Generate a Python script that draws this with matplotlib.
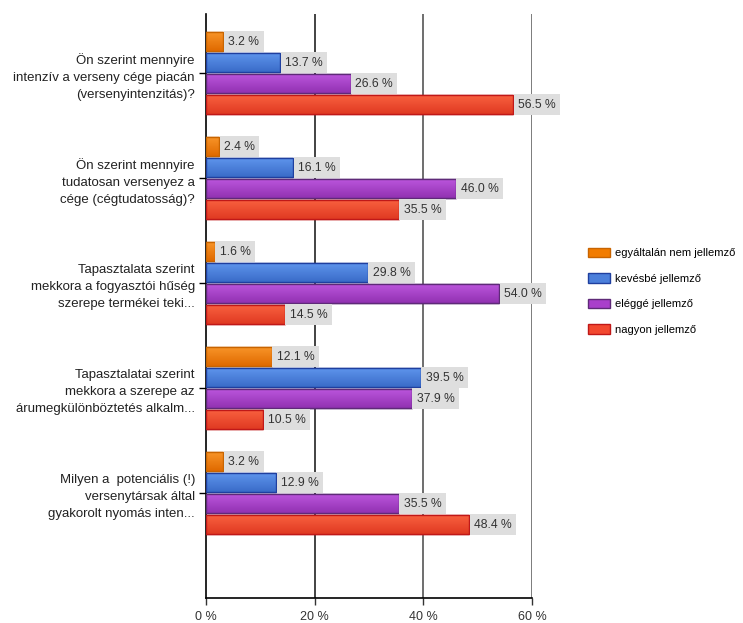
import numpy as np
import matplotlib.pyplot as plt
from matplotlib.patches import Patch
from matplotlib.colors import LinearSegmentedColormap

# survey questions (wrapped as shown on the axis)
questions = [
    "Ön szerint mennyire\nintenzív a verseny cége piacán\n(versenyintenzitás)?",
    "Ön szerint mennyire\ntudatosan versenyez a\ncége (cégtudatosság)?",
    "Tapasztalata szerint\nmekkora a fogyasztói hűség\nszerepe termékei teki...",
    "Tapasztalatai szerint\nmekkora a szerepe az\nárumegkülönböztetés alkalm...",
    "Milyen a  potenciális (!)\nversenytársak által\ngyakorolt nyomás inten...",
]
answers = ["egyáltalán nem jellemző", "kevésbé jellemző",
           "eléggé jellemző", "nagyon jellemző"]

# percent of answers per question
nem = [3.2, 2.4, 1.6, 12.1, 3.2]
kevesbe = [13.7, 16.1, 29.8, 39.5, 12.9]
elegge = [26.6, 46.0, 54.0, 37.9, 35.5]
nagyon = [56.5, 35.5, 14.5, 10.5, 48.4]
series = [nem, kevesbe, elegge, nagyon]

xticks = [0, 20, 40, 60]
xtick_labels = ["0 %", "20 %", "40 %", "60 %"]

fills = ["#f27c00", "#4b7fdb", "#a93fcb", "#f2482f"]
edges = ["#c86400", "#1f3f9f", "#5e2a78", "#c01818"]
# light top / dark bottom shading of the bars
shades = [("#f89428", "#e06a00"), ("#5e94ec", "#3a6cc8"),
          ("#bb55dc", "#9232b2"), ("#f8603f", "#e03a22")]

plt.rcParams['font.family'] = ['Liberation Sans', 'DejaVu Sans']

fig = plt.figure(figsize=(7.43, 6.23), dpi=100)
ax = fig.add_axes([206/743, 25/623, 326/743, 584/623])

y = np.arange(len(questions))
offsets = [-0.3, -0.1, 0.1, 0.3]
h = 0.172
grad = np.linspace(0, 1, 32).reshape(-1, 1)

for vals, off, fc, ec, sh in zip(series, offsets, fills, edges, shades):
    bars = ax.barh(y + off, vals, height=h, color=fc, edgecolor=ec,
                   linewidth=1, zorder=3)
    cmap = LinearSegmentedColormap.from_list("shade", list(sh))
    for bar, yi, v in zip(bars, y, vals):
        im = ax.imshow(grad, cmap=cmap, aspect='auto', zorder=3.1,
                       extent=(0, v, yi + off + h/2, yi + off - h/2))
        im.set_clip_path(bar)
        ax.barh(yi + off, v, height=h, color='none', edgecolor=ec,
                linewidth=1, zorder=3.2)
        ax.text(v + 0.9, yi + off, f"{v:.1f} %", va='center', ha='left',
                fontsize=8.7, color='#333333', zorder=4, clip_on=False,
                bbox=dict(boxstyle='square,pad=0.36', fc='#dedede', ec='none'))

ax.set_xlim(0, 60)
ax.set_ylim(len(questions) - 1 + 1.0, -0.562)

ax.set_xticks(xticks)
ax.set_xticklabels(xtick_labels, fontsize=9, color='#333333')
ax.set_yticks(y)
ax.set_yticklabels(questions, fontsize=9.5, color='#222222', linespacing=1.55)
ax.tick_params(axis='y', length=5, width=1, pad=3)
ax.tick_params(axis='x', length=5, width=1, pad=4, colors='#333333')

for gx, gc in zip([20, 40, 60], ['#222222', '#555555', '#666666']):
    ax.axvline(gx, color=gc, linewidth=1.2, zorder=1)

for s in ['top', 'right']:
    ax.spines[s].set_visible(False)
ax.spines['left'].set_linewidth(1.2)
ax.spines['bottom'].set_linewidth(1.2)

handles = [Patch(facecolor=fc, edgecolor=ec) for fc, ec in zip(fills, edges)]
fig.legend(handles, answers, loc='upper left',
           bbox_to_anchor=(588/743, 1 - 248/623), frameon=False,
           fontsize=8, handlelength=2.0, handleheight=0.9,
           handletextpad=0.45, labelspacing=1.35, borderpad=0, borderaxespad=0)

fig.savefig("out.png", dpi=100)
